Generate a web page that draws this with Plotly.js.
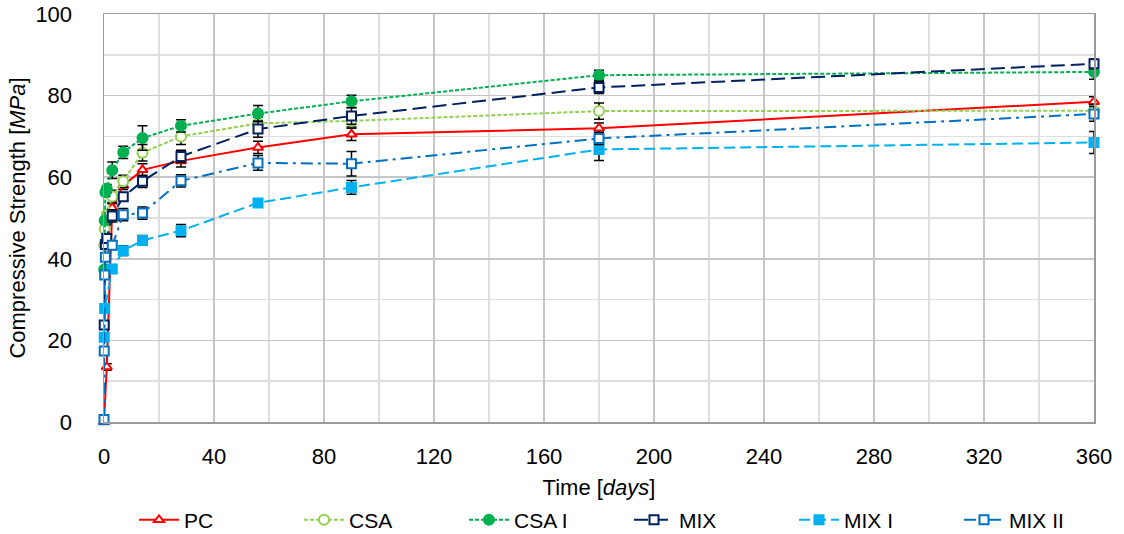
<!DOCTYPE html>
<html>
<head>
<meta charset="utf-8">
<script src="https://cdn.plot.ly/plotly-3.0.1.min.js"></script>
<style>html,body{margin:0;padding:0;background:#fff;}#chart{width:1124px;height:534px;}</style>
</head>
<body>
<div id="chart"></div>
<script>
const seriesNames = ["PC", "CSA", "CSA I", "MIX", "MIX I", "MIX II"];

const PC_days = [0, 1, 3, 7, 14, 28, 56, 90, 180, 360];
const PC = [0, 13.5, 52.5, 58, 61.8, 64, 67.3, 70.5, 72, 78.5];
const PC_err = [0, 0.8, 1, 1, 1.5, 1.5, 1.5, 1.5, 1.3, 1.2];

const CSA_days = [0.08, 0.25, 1, 3, 7, 14, 28, 56, 90, 180, 360];
const CSA = [43.4, 47.3, 50.8, 55.3, 59, 66, 70, 73.2, 73.8, 76.2, 76.3];
const CSA_err = [1, 1, 1, 1.5, 1.5, 2, 2, 1.5, 1.5, 2, 1.5];

const CSA_I_days = [0.08, 0.25, 0.5, 1, 3, 7, 14, 28, 56, 90, 180, 360];
const CSA_I = [37.4, 49.4, 56.3, 57.2, 61.7, 66.1, 69.6, 72.6, 75.6, 78.6, 85, 85.8];
const CSA_I_err = [1, 1, 1, 1, 2, 1.5, 3, 1.5, 2, 1.5, 1.2, 1.8];

const MIX_days = [0.08, 0.5, 1, 3, 7, 14, 28, 56, 90, 180, 360];
const MIX = [23.8, 43.5, 45, 50.5, 55.2, 59, 65.1, 71.8, 75, 82, 87.8];
const MIX_err = [1, 1, 1, 1.5, 1, 1.5, 1.5, 2, 2, 1.5, 1.2];

const MIX_I_days = [0.08, 0.25, 3, 7, 14, 28, 56, 90, 180, 360];
const MIX_I = [20.8, 27.8, 37.5, 42, 44.5, 46.9, 53.7, 57.5, 66.8, 68.5];
const MIX_I_err = [0.8, 0.8, 1, 1.2, 1.2, 1.5, 0.8, 1.7, 2.7, 2.7];

const MIX_II_days = [0, 0.08, 0.25, 0.5, 3, 7, 14, 28, 56, 90, 180, 360];
const MIX_II = [0.6, 17.4, 36, 40.4, 43.3, 50.8, 51.2, 59.1, 63.5, 63.3, 69.5, 75.5];
const MIX_II_err = [0.3, 0.8, 1, 1, 1, 1.5, 1.5, 1.5, 1.8, 3, 1.5, 1.8];

const xTicks = [0, 40, 80, 120, 160, 200, 240, 280, 320, 360];
const yTicks = [0, 20, 40, 60, 80, 100];

const FONT = "Liberation Sans, Arial, sans-serif";

function mk(name, x, y, err, color, dash, symbol, hollow, size) {
  return {
    type: "scatter", mode: "lines+markers", name: name, x: x, y: y,
    cliponaxis: false,
    line: {color: color, width: 2, dash: dash},
    marker: {symbol: symbol, size: size, color: hollow ? "#ffffff" : color,
             line: {color: color, width: 2}},
    error_y: {type: "data", array: err, visible: true, color: "#000000", thickness: 1.5, width: 5}
  };
}

const traces = [
  mk(seriesNames[0], PC_days, PC, PC_err, "#FF0000", "solid", "triangle-up", true, 9),
  mk(seriesNames[1], CSA_days, CSA, CSA_err, "#92D050", "4px,2px", "circle", true, 10),
  mk(seriesNames[2], CSA_I_days, CSA_I, CSA_I_err, "#00B050", "4px,2px", "circle", false, 10),
  mk(seriesNames[3], MIX_days, MIX, MIX_err, "#002060", "14px,6px", "square", true, 9),
  mk(seriesNames[4], MIX_I_days, MIX_I, MIX_I_err, "#00B0F0", "11px,5px", "square", false, 9),
  mk(seriesNames[5], MIX_II_days, MIX_II, MIX_II_err, "#0070C0", "12px,5px,3px,5px", "square", true, 9)
];

const layout = {
  width: 1124, height: 534,
  margin: {l: 104, r: 30, t: 14, b: 112},
  paper_bgcolor: "#ffffff", plot_bgcolor: "#ffffff",
  font: {family: FONT, size: 21, color: "#000000"},
  showlegend: true,
  legend: {orientation: "h", x: 0.533, xanchor: "center", xref: "paper",
           yref: "container", y: 0.026, yanchor: "middle",
           font: {family: FONT, size: 21, color: "#000"},
           entrywidth: 110, entrywidthmode: "pixels", itemwidth: 40, traceorder: "normal"},
  xaxis: {
    range: [0, 360], tickvals: xTicks, ticktext: xTicks.map(String),
    ticks: "outside", ticklen: 14, tickcolor: "rgba(0,0,0,0)",
    showgrid: true, gridcolor: "#c6c6c6", gridwidth: 1.5,
    minor: {dtick: 20, showgrid: true, gridcolor: "#dedede", gridwidth: 1.5},
    showline: true, linecolor: "#9a9a9a", linewidth: 1.5, mirror: true,
    zeroline: false,
    tickfont: {family: FONT, size: 22},
    title: {text: "Time [<i>days</i>]", font: {family: FONT, size: 22}, standoff: 14}
  },
  yaxis: {
    range: [0, 100], tickvals: yTicks, ticktext: yTicks.map(String),
    ticks: "outside", ticklen: 26, tickcolor: "rgba(0,0,0,0)",
    showgrid: true, gridcolor: "#c6c6c6", gridwidth: 1.5,
    minor: {dtick: 10, showgrid: true, gridcolor: "#dedede", gridwidth: 1.5},
    showline: true, linecolor: "#9a9a9a", linewidth: 1.5, mirror: true,
    zeroline: false,
    tickfont: {family: FONT, size: 22},
    title: {text: "Compressive Strength [<i>MPa</i>]", font: {family: FONT, size: 22}, standoff: 3}
  }
};

Plotly.newPlot("chart", traces, layout, {displayModeBar: false, staticPlot: true});
</script>
</body>
</html>
